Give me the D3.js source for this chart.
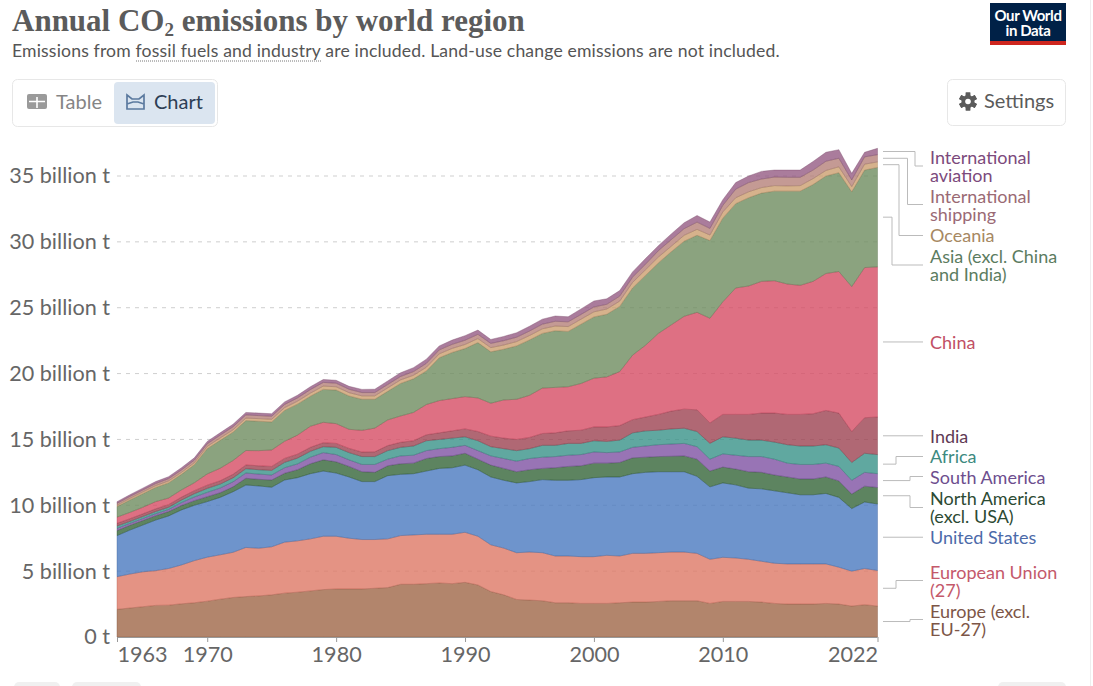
<!DOCTYPE html>
<html>
<head>
<meta charset="utf-8">
<script src="https://cdn.jsdelivr.net/npm/d3@7"></script>
<style>
  html, body { margin: 0; padding: 0; background: #fff; overflow: hidden; }
  svg { display: block; font-family: Lato, sans-serif; }
</style>
</head>
<body>
<svg id="chart" width="1093" height="686"></svg>
<script>
const years = d3.range(1963, 2023);

const europeExcl = [
  2.1,2.2,2.3,2.4,2.42,2.52,2.6,2.72,2.87,3.0,
  3.07,3.12,3.2,3.33,3.4,3.5,3.6,3.65,3.65,3.65,
  3.7,3.75,4.0,4.0,4.05,4.1,4.05,4.15,3.95,3.45,
  3.2,2.85,2.8,2.75,2.6,2.6,2.55,2.55,2.55,2.6,
  2.65,2.65,2.7,2.75,2.75,2.75,2.55,2.7,2.7,2.7,
  2.65,2.55,2.5,2.5,2.5,2.55,2.5,2.35,2.45,2.35];
const europeanUnion = [
  2.48,2.58,2.65,2.64,2.78,2.95,3.2,3.34,3.37,3.43,
  3.73,3.62,3.65,3.87,3.9,3.95,4.05,4.0,3.85,3.75,
  3.7,3.7,3.7,3.75,3.75,3.7,3.75,3.8,3.7,3.55,
  3.55,3.55,3.65,3.65,3.55,3.55,3.55,3.55,3.65,3.55,
  3.7,3.7,3.7,3.7,3.7,3.6,3.35,3.35,3.3,3.2,
  3.1,3.05,3.05,3.05,3.05,3.0,2.8,2.65,2.75,2.7];
const unitedStates = [
  3.12,3.34,3.55,3.84,3.99,4.18,4.2,4.22,4.36,4.6,
  4.74,4.73,4.52,4.72,4.8,4.95,4.95,4.8,4.65,4.4,
  4.4,4.8,4.65,4.65,4.8,5.0,5.05,5.1,5.05,5.15,
  5.15,5.3,5.35,5.55,5.75,5.75,5.85,6.0,5.95,6.0,
  6.05,6.15,6.15,6.1,6.1,5.85,5.5,5.65,5.55,5.4,
  5.5,5.5,5.4,5.25,5.25,5.35,5.3,4.75,5.05,5.05];
const northAmerica = [
  .38,.36,.34,.33,.33,.33,.35,.37,.35,.37,
  .51,.5,.55,.51,.6,.75,.85,.85,.8,.75,
  .7,.75,.8,.8,.95,.9,.9,.9,.8,.9,
  .9,.85,.9,.85,.95,1.05,1.05,1.1,1.05,1.1,
  1.2,1.15,1.15,1.17,1.2,1.3,1.2,1.2,1.2,1.25,
  1.25,1.2,1.2,1.2,1.2,1.25,1.25,1.1,1.2,1.25];
const southAmerica = [
  .17,.15,.15,.15,.16,.22,.28,.33,.36,.38,
  .4,.4,.38,.42,.44,.5,.55,.55,.5,.55,
  .6,.5,.6,.6,.6,.6,.65,.6,.65,.7,
  .75,.8,.85,.85,.85,.85,.85,.85,.8,.8,
  .8,.85,.9,.93,.95,.95,.9,1.0,1.05,1.15,
  1.2,1.2,1.05,1.1,1.1,1.05,1.1,1.05,1.05,1.05];
const africa = [
  .18,.15,.16,.17,.17,.2,.25,.3,.3,.3,
  .33,.33,.35,.41,.44,.45,.45,.55,.55,.6,
  .6,.65,.65,.7,.75,.7,.7,.65,.75,.7,
  .75,.8,.75,.9,.85,.9,.85,.85,.85,.9,
  1.1,1.15,1.1,1.15,1.15,1.15,1.2,1.3,1.3,1.25,
  1.25,1.3,1.4,1.4,1.4,1.4,1.4,1.35,1.45,1.45];
const india = [
  .2,.2,.2,.2,.2,.22,.23,.25,.25,.27,
  .28,.3,.3,.3,.3,.3,.3,.3,.32,.34,
  .36,.38,.38,.4,.45,.5,.55,.6,.7,.8,
  .8,.85,.85,.9,.95,.95,1.0,1.05,1.1,1.1,
  1.0,1.05,1.2,1.35,1.45,1.65,1.55,1.7,1.8,1.95,
  2.05,2.2,2.3,2.4,2.45,2.6,2.65,2.35,2.7,2.85];
const china = [
  .47,.48,.5,.55,.5,.55,.6,.85,.95,1.05,
  1.1,1.15,1.25,1.3,1.45,1.6,1.55,1.5,1.45,1.65,
  1.8,1.95,2.0,2.15,2.3,2.45,2.45,2.45,2.55,2.5,
  2.9,3.05,3.2,3.45,3.45,3.35,3.55,3.7,3.8,4.1,
  4.9,5.45,6.15,6.55,7.05,7.4,7.95,8.55,9.6,9.75,
  10.0,10.05,9.9,9.8,10.05,10.4,10.75,11.0,11.4,11.4];
const asiaExcl = [
  .8,.94,1.03,1.07,1.15,1.18,1.37,1.92,2.12,2.15,
  2.27,2.23,2.13,2.34,2.35,2.28,2.5,2.55,2.53,2.36,
  2.19,2.17,2.47,2.55,2.55,3.25,3.5,3.65,4.2,3.9,
  3.85,4.05,4.2,4.15,4.3,4.2,4.5,4.65,4.75,4.95,
  5.1,5.3,5.35,5.55,5.7,5.85,5.9,6.35,6.4,6.7,
  6.7,6.8,7.05,7.15,7.35,7.4,7.5,7.2,7.4,7.55];
const oceania = [
  .11,.12,.13,.14,.15,.15,.16,.17,.18,.18,
  .19,.2,.2,.21,.22,.23,.25,.25,.25,.26,
  .26,.26,.27,.27,.28,.3,.31,.31,.31,.32,
  .32,.33,.34,.35,.36,.37,.38,.39,.4,.4,
  .42,.43,.45,.42,.45,.45,.42,.47,.45,.45,
  .42,.42,.4,.42,.45,.42,.45,.4,.45,.42];
const shipping = [
  .14,.15,.15,.16,.17,.18,.19,.2,.21,.23,
  .24,.23,.23,.24,.25,.27,.28,.27,.26,.25,
  .25,.26,.26,.28,.29,.3,.31,.32,.32,.32,
  .33,.33,.34,.35,.36,.36,.36,.37,.36,.38,
  .4,.42,.48,.5,.5,.55,.5,.5,.65,.7,
  .65,.65,.65,.63,.65,.7,.65,.5,.55,.55];
const aviation = [
  .12,.13,.14,.15,.15,.17,.17,.18,.18,.19,
  .19,.19,.19,.2,.2,.22,.22,.22,.22,.24,
  .25,.27,.28,.3,.32,.3,.32,.35,.32,.3,
  .32,.34,.36,.38,.4,.38,.42,.45,.42,.42,
  .4,.43,.38,.43,.45,.5,.48,.43,.5,.5,
  .58,.53,.55,.55,.65,.68,.65,.5,.35,.48];

const yTicks = [0, 5, 10, 15, 20, 25, 30, 35];
const xTicks = [1963, 1970, 1980, 1990, 2000, 2010, 2022];

// bottom of the stack first
const regions = [
  {key: "Europe (excl. EU-27)", values: europeExcl, fill: "#9f6647", text: "#7d5647", lines: ["Europe (excl.", "EU-27)"], labelY: 612, endY: 619.5, elbow: 910},
  {key: "European Union (27)", values: europeanUnion, fill: "#dd7865", text: "#c4596b", lines: ["European Union", "(27)"], labelY: 573, endY: 580.5, elbow: 896},
  {key: "United States", values: unitedStates, fill: "#4a79bf", text: "#4c6aa9", lines: ["United States"], labelY: 538, endY: 537.5, elbow: null},
  {key: "North America (excl. USA)", values: northAmerica, fill: "#346538", text: "#2c4a33", lines: ["North America", "(excl. USA)"], labelY: 499, endY: 507.5, elbow: 910},
  {key: "South America", values: southAmerica, fill: "#7e51a2", text: "#6d4e8e", lines: ["South America"], labelY: 478, endY: 476.5, elbow: 910},
  {key: "Africa", values: africa, fill: "#389288", text: "#3d8a80", lines: ["Africa"], labelY: 457, endY: 456.5, elbow: 896},
  {key: "India", values: india, fill: "#9c4251", text: "#5f3a55", lines: ["India"], labelY: 437, endY: 435.5, elbow: null},
  {key: "China", values: china, fill: "#d64c64", text: "#c15065", lines: ["China"], labelY: 343, endY: 342.5, elbow: null},
  {key: "Asia (excl. China and India)", values: asiaExcl, fill: "#6e8c5f", text: "#5c7c5f", lines: ["Asia (excl. China", "and India)"], labelY: 257, endY: 265, elbow: 892},
  {key: "Oceania", values: oceania, fill: "#cc9f6f", text: "#a68862", lines: ["Oceania"], labelY: 236, endY: 235.5, elbow: 899},
  {key: "International shipping", values: shipping, fill: "#b58179", text: "#9a6a74", lines: ["International", "shipping"], labelY: 197, endY: 204.5, elbow: 907.5},
  {key: "International aviation", values: aviation, fill: "#955b83", text: "#7c4a7c", lines: ["International", "aviation"], labelY: 158, endY: 166, elbow: 915}
];

const table = years.map(function(year, i) {
  let row = {year: year};
  regions.forEach(function(r) { row[r.key] = r.values[i] });
  return row;
});

const svg = d3.select("#chart");

const x = d3.scaleLinear().domain([1963, 2022]).range([117, 877.5]);
const y = d3.scaleLinear().domain([0, 35]).range([637, 176]);

// header
svg.append("text")
  .attr("x", 12).attr("y", 31)
  .attr("font-family", "'Liberation Serif', serif")
  .attr("font-weight", 700).attr("font-size", 31).attr("fill", "#5b5b5b")
  .call(function(t) {
    t.append("tspan").text("Annual CO");
    t.append("tspan").attr("font-size", 19).attr("dy", 5).text("2");
    t.append("tspan").attr("dy", -5).text(" emissions by world region");
  });

svg.append("text")
  .attr("x", 12).attr("y", 57)
  .attr("font-size", 17.6).attr("letter-spacing", 0.16).attr("fill", "#555")
  .text("Emissions from fossil fuels and industry are included. Land-use change emissions are not included.");

svg.append("line")
  .attr("x1", 136).attr("x2", 322).attr("y1", 61).attr("y2", 61)
  .attr("stroke", "#777").attr("stroke-dasharray", "1 1");

// logo
svg.append("rect").attr("x", 990).attr("y", 3).attr("width", 76).attr("height", 42).attr("fill", "#002147");
svg.append("rect").attr("x", 990).attr("y", 41).attr("width", 76).attr("height", 4).attr("fill", "#ce261e");
svg.selectAll(".logo").data(["Our World", "in Data"]).join("text")
  .attr("class", "logo")
  .attr("x", 1028).attr("y", function(d, i) { return 21 + i * 15 })
  .attr("text-anchor", "middle").attr("font-size", 15).attr("font-weight", 700)
  .attr("letter-spacing", -0.4).attr("fill", "#fff")
  .text(function(d) { return d });

// table / chart switch
svg.append("rect").attr("x", 12.5).attr("y", 79.5).attr("width", 205).attr("height", 47).attr("rx", 5)
  .attr("fill", "#fff").attr("stroke", "#e7e7e7");
svg.append("rect").attr("x", 114).attr("y", 82).attr("width", 101).attr("height", 42).attr("rx", 4)
  .attr("fill", "#dbe5f0");

svg.append("rect").attr("x", 27).attr("y", 94).attr("width", 20).attr("height", 15).attr("rx", 2).attr("fill", "#9a9a9a");
svg.append("path").attr("d", "M29 101.5H45M37 97V108").attr("stroke", "#fff").attr("stroke-width", 1.6);

svg.append("text").attr("x", 56).attr("y", 109).attr("font-size", 20).attr("fill", "#858585").text("Table");

svg.append("path").attr("d", "M127 95L132 99H139L144 95V109H127ZM127 104L133 102H138L144 104").attr("fill", "none")
  .attr("stroke", "#5b7a9f").attr("stroke-width", 1.7);
svg.append("text").attr("x", 154).attr("y", 109).attr("font-size", 20).attr("fill", "#2d3e55").text("Chart");

// settings button
svg.append("rect").attr("x", 947.5).attr("y", 79.5).attr("width", 118).attr("height", 46).attr("rx", 5)
  .attr("fill", "#fff").attr("stroke", "#e7e7e7");
const gear = svg.append("g").attr("transform", "translate(968,101.5)");
gear.selectAll("line").data(d3.range(6)).join("line")
  .attr("y1", -9).attr("y2", 9)
  .attr("stroke", "#5b5b5b").attr("stroke-width", 4.5)
  .attr("transform", function(d) { return "rotate(" + d * 60 + ")" });
gear.append("circle").attr("r", 6.5).attr("fill", "#5b5b5b");
gear.append("circle").attr("r", 2.8).attr("fill", "#fff");
svg.append("text").attr("x", 984).attr("y", 108).attr("font-size", 20).attr("fill", "#5b5b5b").text("Settings");

// grid and axes
const yAxis = svg.append("g").attr("transform", "translate(117,0)")
  .call(d3.axisLeft(y).tickValues(yTicks).tickSize(0).tickPadding(7)
    .tickFormat(function(d) { return d === 0 ? "0 t" : d + " billion t" }));
yAxis.select(".domain").remove();
yAxis.selectAll("text").attr("font-family", "Lato").attr("font-size", 21.6).attr("fill", "#666");

svg.append("g").selectAll("line").data(yTicks.filter(function(d) { return d > 0 })).join("line")
  .attr("x1", 117).attr("x2", 877.5)
  .attr("y1", function(d) { return y(d) }).attr("y2", function(d) { return y(d) })
  .attr("stroke", "#cfcfcf").attr("stroke-dasharray", "4 5");

// stacked areas
const stack = d3.stack().keys(regions.map(function(r) { return r.key }));
const layers = stack(table);

const area = d3.area()
  .x(function(d) { return x(d.data.year) })
  .y0(function(d) { return y(d[0]) })
  .y1(function(d) { return y(d[1]) });

svg.append("g").selectAll("path").data(layers).join("path")
  .attr("d", area)
  .attr("fill", function(d, i) { return regions[i].fill })
  .attr("fill-opacity", 0.8)
  .attr("stroke", function(d, i) { return d3.color(regions[i].fill).darker(0.6) })
  .attr("stroke-opacity", 0.55)
  .attr("stroke-width", 0.7);

const xAxis = svg.append("g").attr("transform", "translate(0,637)")
  .call(d3.axisBottom(x).tickValues(xTicks).tickSize(5).tickPadding(5).tickFormat(d3.format("d")));
xAxis.select(".domain").attr("stroke", "#999").attr("d", "M117,0.5H877.5");
xAxis.selectAll("line").attr("stroke", "#999");
xAxis.selectAll("text").attr("font-family", "Lato").attr("font-size", 21.6).attr("fill", "#666")
  .attr("text-anchor", function(d) { return d === 1963 ? "start" : d === 2022 ? "end" : "middle" });

// right hand labels with connectors
const last = years.length - 1;
const labels = svg.append("g");
regions.forEach(function(r, i) {
  let start = y((layers[i][last][0] + layers[i][last][1]) / 2);
  let p = d3.path();
  p.moveTo(883, start);
  if (r.elbow) {
    p.lineTo(r.elbow, start);
    p.lineTo(r.elbow, r.endY);
  }
  p.lineTo(923, r.elbow ? r.endY : start);
  labels.append("path").attr("d", p.toString()).attr("fill", "none").attr("stroke", "#bbb");

  labels.append("text")
    .attr("font-size", 18).attr("fill", r.text)
    .selectAll("tspan").data(r.lines).join("tspan")
    .attr("x", 930)
    .attr("y", function(d, k) { return r.labelY + 6 + k * 18 })
    .text(function(d) { return d });
});

// cut off controls at the bottom edge and the page edge
svg.selectAll(".stub").data([[14, 46], [72, 69], [998, 68]]).join("rect")
  .attr("class", "stub")
  .attr("x", function(d) { return d[0] }).attr("y", 682)
  .attr("width", function(d) { return d[1] }).attr("height", 12).attr("rx", 5)
  .attr("fill", "#f0f0f0");
svg.append("line").attr("x1", 1090.5).attr("x2", 1090.5).attr("y1", 0).attr("y2", 686).attr("stroke", "#eee");
</script>
</body>
</html>
